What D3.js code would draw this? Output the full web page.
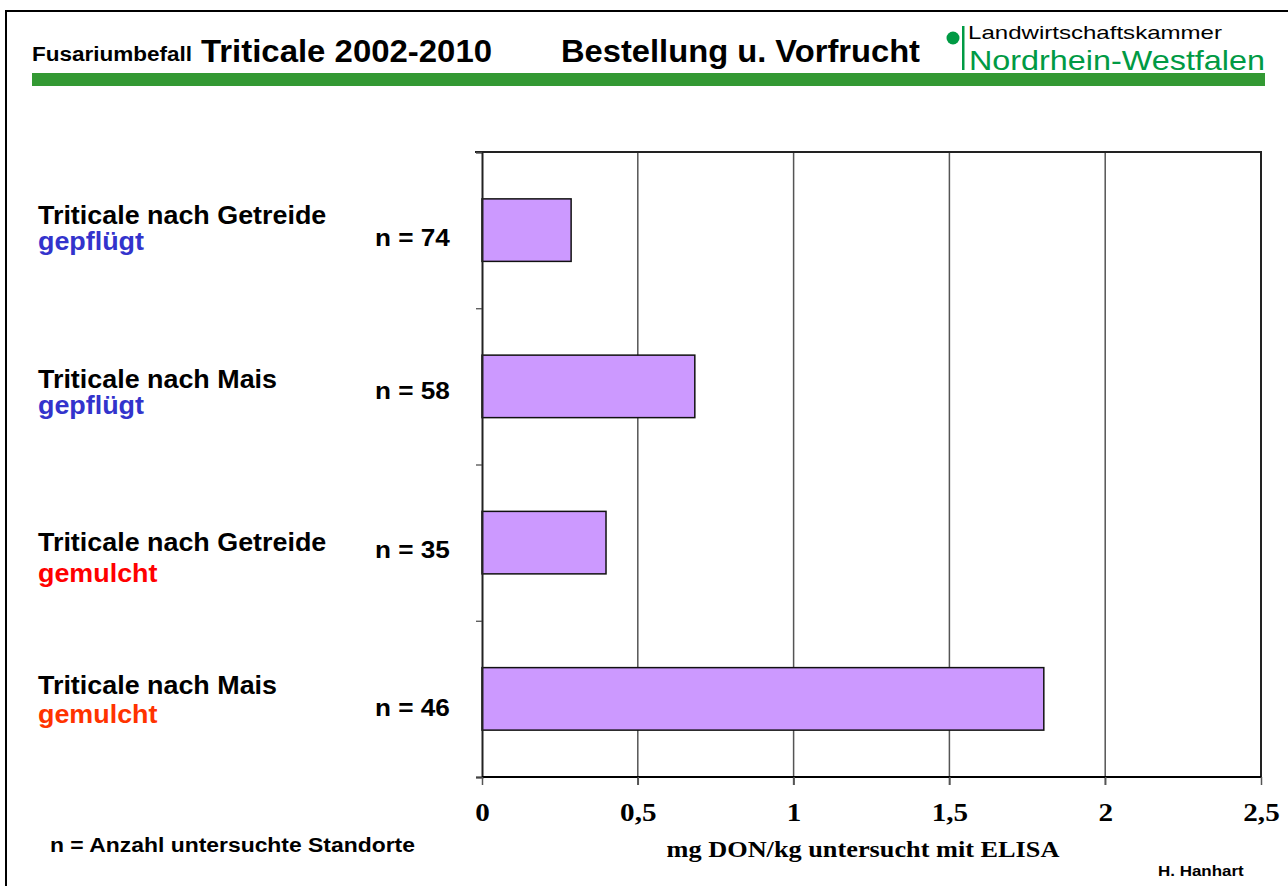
<!DOCTYPE html>
<html>
<head>
    <meta charset="utf-8">
    <title>Fusariumbefall Triticale 2002-2010</title>
    <script src="https://cdnjs.cloudflare.com/ajax/libs/d3/7.8.5/d3.min.js"></script>
    <style>
        body { margin: 0; background: #fff; }
        .sans { font-family: "Liberation Sans", Arial, sans-serif; font-weight: bold; }
        .cat-label { font-family: "Liberation Sans", Arial, sans-serif; font-weight: bold; font-size: 25px; }
        .n-label { font-family: "Liberation Sans", Arial, sans-serif; font-weight: bold; font-size: 24px; }
        .x-tick text { font-family: "Liberation Serif", "Times New Roman", serif; font-weight: bold; font-size: 26px; }
        .grid line { stroke: #555; stroke-width: 1.5; }
    </style>
</head>
<body>
<div id="chart"></div>
<script>
    // data
    const categories = ['Triticale nach Getreide', 'Triticale nach Mais', 'Triticale nach Getreide', 'Triticale nach Mais'];
    const tillage = ['gepflügt', 'gepflügt', 'gemulcht', 'gemulcht'];
    const tillageColors = ['#3333cc', '#3333cc', '#ff0000', '#ff3300'];
    const counts = [74, 58, 35, 46];
    const donValues = [0.286, 0.683, 0.398, 1.803];
    const xTicks = [0, 0.5, 1, 1.5, 2, 2.5];

    const W = 1288, H = 886;
    const plot = { left: 482, right: 1261, top: 152, bottom: 777 };

    const svg = d3.select('#chart').append('svg')
        .attr('width', W)
        .attr('height', H);

    // the original fonts run wider than the installed ones, stretch a bit
    function widen(sel, f) {
        sel.each(function () {
            const len = this.getComputedTextLength();
            d3.select(this)
                .attr('textLength', len * f)
                .attr('lengthAdjust', 'spacingAndGlyphs');
        });
        return sel;
    }
    function fit(sel, w) {
        return sel.attr('textLength', w).attr('lengthAdjust', 'spacingAndGlyphs');
    }

    // page frame (left + top)
    svg.append('path')
        .attr('d', `M6,${H} L6,11 L${W},11`)
        .attr('fill', 'none')
        .attr('stroke', '#000')
        .attr('stroke-width', 2);

    // header
    fit(svg.append('text')
        .attr('class', 'sans')
        .attr('x', 32).attr('y', 61)
        .style('font-size', '20px')
        .text('Fusariumbefall'), 160);
    fit(svg.append('text')
        .attr('class', 'sans')
        .attr('x', 201).attr('y', 62)
        .style('font-size', '32px')
        .text('Triticale 2002-2010'), 291);
    fit(svg.append('text')
        .attr('class', 'sans')
        .attr('x', 561).attr('y', 62)
        .style('font-size', '32px')
        .text('Bestellung u. Vorfrucht'), 359);

    // logo
    svg.append('circle').attr('cx', 953).attr('cy', 38).attr('r', 6.5).attr('fill', '#009a44');
    svg.append('rect').attr('x', 962).attr('y', 26).attr('width', 2.5).attr('height', 44).attr('fill', '#009a44');
    fit(svg.append('text')
        .attr('x', 968).attr('y', 39)
        .style('font-family', '"Liberation Sans", Arial, sans-serif')
        .style('font-size', '19px')
        .text('Landwirtschaftskammer'), 254);
    fit(svg.append('text')
        .attr('x', 969).attr('y', 70)
        .style('font-family', '"Liberation Sans", Arial, sans-serif')
        .style('font-size', '28px')
        .attr('fill', '#009a44')
        .text('Nordrhein-Westfalen'), 296);

    // green band under header
    svg.append('rect')
        .attr('x', 32).attr('y', 73)
        .attr('width', 1233).attr('height', 13)
        .attr('fill', '#339933');

    // scales
    const x = d3.scaleLinear()
        .domain([0, 2.5])
        .range([plot.left, plot.right]);

    const y = d3.scaleBand()
        .domain(d3.range(categories.length))
        .range([plot.top, plot.bottom])
        .paddingInner(0.6)
        .paddingOuter(0.3);

    const yEdges = d3.scaleLinear()
        .domain([0, categories.length])
        .range([plot.top, plot.bottom]);

    // vertical grid lines
    svg.append('g')
        .attr('class', 'grid')
        .selectAll('line')
        .data(xTicks.slice(1, -1))
        .join('line')
        .attr('x1', d => x(d))
        .attr('x2', d => x(d))
        .attr('y1', plot.top)
        .attr('y2', plot.bottom + 8);

    // box top + right
    svg.append('path')
        .attr('d', `M${plot.left - 7},${plot.top} L${plot.right},${plot.top} L${plot.right},${plot.bottom}`)
        .attr('fill', 'none')
        .attr('stroke', '#222')
        .attr('stroke-width', 2);

    // bars
    svg.append('g')
        .selectAll('rect')
        .data(donValues)
        .join('rect')
        .attr('x', x(0))
        .attr('y', (d, i) => y(i))
        .attr('width', d => x(d) - x(0))
        .attr('height', y.bandwidth())
        .attr('fill', '#cc99ff')
        .attr('stroke', '#111')
        .attr('stroke-width', 1.5);

    // y axis (category edges as ticks)
    const yAxis = svg.append('g')
        .attr('transform', `translate(${plot.left},0)`)
        .call(d3.axisLeft(yEdges).ticks(4).tickSize(6).tickFormat(''));
    yAxis.select('.domain').attr('stroke', '#222').attr('stroke-width', 2);
    yAxis.selectAll('.tick line').attr('stroke', '#444').attr('stroke-width', 1.2);

    // x axis
    const xAxis = svg.append('g')
        .attr('class', 'x-tick')
        .attr('transform', `translate(0,${plot.bottom})`)
        .call(d3.axisBottom(x)
            .tickValues(xTicks)
            .tickSize(8)
            .tickPadding(18)
            .tickFormat(d => String(d).replace('.', ',')));
    xAxis.select('.domain').attr('stroke', '#000').attr('stroke-width', 2).attr('d', `M${plot.left},0H${plot.right}`);
    xAxis.selectAll('.tick line').attr('stroke', '#555').attr('stroke-width', 1.5);
    widen(xAxis.selectAll('.tick text').attr('fill', '#000'), 1.12);

    // category labels
    const line1Shift = [-6, 2, 8, -5];
    const line2Shift = [20, 28, 39, 24];
    const cats = svg.append('g').selectAll('g')
        .data(categories)
        .join('g')
        .attr('transform', (d, i) => `translate(38,${y(i) + y.bandwidth() / 2})`);
    widen(cats.append('text')
        .attr('class', 'cat-label')
        .attr('y', (d, i) => line1Shift[i])
        .text(d => d), 1.075);
    widen(cats.append('text')
        .attr('class', 'cat-label')
        .attr('y', (d, i) => line2Shift[i])
        .attr('fill', (d, i) => tillageColors[i])
        .text((d, i) => tillage[i]), 1.075);

    // n labels
    const nShift = [16, 13, 15, 17];
    widen(svg.append('g').selectAll('text')
        .data(counts)
        .join('text')
        .attr('class', 'n-label')
        .attr('x', 375)
        .attr('y', (d, i) => y(i) + y.bandwidth() / 2 + nShift[i])
        .text(d => `n = ${d}`), 1.09);

    // axis title
    widen(svg.append('text')
        .attr('x', 863)
        .attr('y', 857)
        .attr('text-anchor', 'middle')
        .style('font-family', '"Liberation Serif", "Times New Roman", serif')
        .style('font-weight', 'bold')
        .style('font-size', '24px')
        .text('mg DON/kg untersucht mit ELISA'), 1.095);

    widen(svg.append('text')
        .attr('class', 'sans')
        .attr('x', 50)
        .attr('y', 852)
        .style('font-size', '20px')
        .text('n = Anzahl untersuchte Standorte'), 1.145);

    widen(svg.append('text')
        .attr('class', 'sans')
        .attr('x', 1158)
        .attr('y', 876)
        .style('font-size', '15px')
        .text('H. Hanhart'), 1.13);
</script>
</body>
</html>
